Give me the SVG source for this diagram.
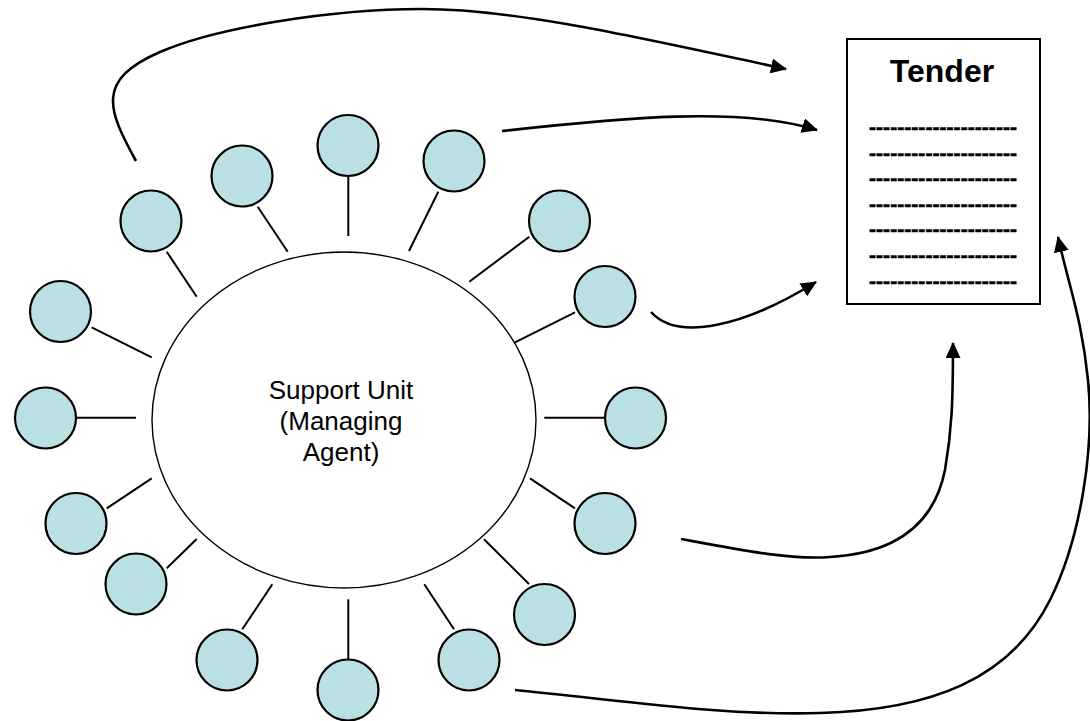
<svg xmlns="http://www.w3.org/2000/svg" width="1090" height="721" viewBox="0 0 1090 721">
<style>
.node{fill:#BBE0E3;stroke:#000;stroke-width:2.2}
.spoke{stroke:#000;stroke-width:2;fill:none}
.arrow{stroke:#000;stroke-width:2.6;fill:none;marker-end:url(#ah)}
.lbl{font-family:"Liberation Sans",Arial,sans-serif;font-size:26px;fill:#000;text-anchor:middle}
.dash{font-family:"Liberation Sans",Arial,sans-serif;font-size:21px;font-weight:bold;fill:#000;stroke:#000;stroke-width:0.6}
</style>
<defs>
<marker id="ah" viewBox="0 0 16 15" refX="15" refY="7.5" markerWidth="16" markerHeight="15" markerUnits="userSpaceOnUse" orient="auto">
<path d="M0,0 L16,7.5 L0,15 z" fill="#000"/>
</marker>
</defs>
<rect width="1090" height="721" fill="#fff"/>
<g id="support-unit">
<ellipse cx="344" cy="420" rx="192" ry="168" fill="#fff" stroke="#000" stroke-width="1.4"/>
<text class="lbl" x="341" y="399">Support Unit</text>
<text class="lbl" x="341" y="430">(Managing</text>
<text class="lbl" x="341" y="461">Agent)</text>
</g>
<g id="tender">
<rect x="847" y="39" width="193" height="265" fill="#fff" stroke="#000" stroke-width="2"/>
<text x="942" y="82" font-family="'Liberation Sans',Arial,sans-serif" font-size="32" font-weight="bold" text-anchor="middle">Tender</text>
<text class="dash" x="869" y="134" textLength="148" lengthAdjust="spacing">---------------------</text>
<text class="dash" x="869" y="159.5" textLength="148" lengthAdjust="spacing">---------------------</text>
<text class="dash" x="869" y="185" textLength="148" lengthAdjust="spacing">---------------------</text>
<text class="dash" x="869" y="210.5" textLength="148" lengthAdjust="spacing">---------------------</text>
<text class="dash" x="869" y="236" textLength="148" lengthAdjust="spacing">---------------------</text>
<text class="dash" x="869" y="262" textLength="148" lengthAdjust="spacing">---------------------</text>
<text class="dash" x="869" y="288" textLength="148" lengthAdjust="spacing">---------------------</text>
</g>
<g id="agents">
<circle id="agent-1" class="node" cx="151" cy="221" r="30.5"/>
<circle id="agent-2" class="node" cx="242" cy="176" r="30.5"/>
<circle id="agent-3" class="node" cx="348" cy="145.5" r="30.5"/>
<circle id="agent-4" class="node" cx="454" cy="161" r="30.5"/>
<circle id="agent-5" class="node" cx="559.5" cy="221" r="30.5"/>
<circle id="agent-6" class="node" cx="605" cy="296.5" r="30.5"/>
<circle id="agent-7" class="node" cx="60.5" cy="311.5" r="30.5"/>
<circle id="agent-8" class="node" cx="45.5" cy="418" r="30.5"/>
<circle id="agent-9" class="node" cx="635.5" cy="418" r="30.5"/>
<circle id="agent-10" class="node" cx="76" cy="523.5" r="30.5"/>
<circle id="agent-11" class="node" cx="605" cy="523.5" r="30.5"/>
<circle id="agent-12" class="node" cx="136" cy="584" r="30.5"/>
<circle id="agent-13" class="node" cx="544.5" cy="614.5" r="30.5"/>
<circle id="agent-14" class="node" cx="227" cy="660" r="30.5"/>
<circle id="agent-15" class="node" cx="348" cy="690" r="30.5"/>
<circle id="agent-16" class="node" cx="469" cy="660" r="30.5"/>
</g>
<g id="connectors">
<line class="spoke" x1="166.7" y1="251.7" x2="196.7" y2="296.7"/>
<line class="spoke" x1="257.7" y1="206.7" x2="287.7" y2="251.7"/>
<line class="spoke" x1="348.3" y1="176" x2="348.3" y2="236"/>
<line class="spoke" x1="438.3" y1="191.7" x2="409" y2="251"/>
<line class="spoke" x1="529.3" y1="236.7" x2="469.3" y2="281.7"/>
<line class="spoke" x1="575" y1="312.3" x2="515" y2="342.3"/>
<line class="spoke" x1="91.7" y1="327.3" x2="151.7" y2="357.3"/>
<line class="spoke" x1="76" y1="417.7" x2="136" y2="417.7"/>
<line class="spoke" x1="605" y1="417.7" x2="544.3" y2="417.7"/>
<line class="spoke" x1="106.7" y1="508.3" x2="151.7" y2="478.3"/>
<line class="spoke" x1="575" y1="508.3" x2="530" y2="478.3"/>
<line class="spoke" x1="166.7" y1="568.3" x2="196.7" y2="539"/>
<line class="spoke" x1="529" y1="584" x2="484" y2="539.3"/>
<line class="spoke" x1="242.3" y1="629.3" x2="272.3" y2="584.3"/>
<line class="spoke" x1="348.3" y1="659.3" x2="348.3" y2="599.3"/>
<line class="spoke" x1="454" y1="629.3" x2="424.3" y2="584.3"/>
<path class="arrow" d="M136,161 C108,110 95,80 160,52 C215,28 330,9 422,9 C520,9 650,40 786,69"/>
<path class="arrow" d="M502,131 C620,118 740,106 817,130"/>
<path class="arrow" d="M651,312 C678,342 745,326 816,282"/>
<path class="arrow" d="M681,539 C740,550 790,560 830,557 C900,553 935,520 945,470 C952,430 953,400 953,343"/>
<path class="arrow" d="M515,690 C620,700 720,716 820,713 C930,710 1010,680 1050,600 C1080,540 1095,450 1088,380 C1082,320 1070,290 1058,237"/>
</g>
</svg>
